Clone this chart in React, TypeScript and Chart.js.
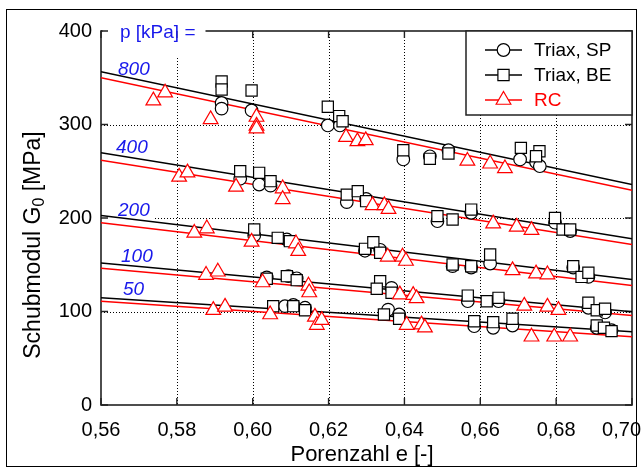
import { useEffect, useRef } from "react";
import { Chart, registerables } from "chart.js";
Chart.register(...registerables);

const xTicks = [0.56, 0.58, 0.6, 0.62, 0.64, 0.66, 0.68, 0.7];
const yTicks = [0, 100, 200, 300, 400];
const pressureLabels = ["800", "400", "200", "100", "50"];

// Triax, SP (circles)
const spE = [0.5918, 0.5918, 0.5997, 0.6198, 0.623, 0.6397, 0.6467, 0.6516, 0.6705, 0.6747, 0.6757,
  0.5967, 0.6017, 0.6047, 0.6248, 0.6299, 0.6487, 0.6576, 0.6797, 0.6837,
  0.6004, 0.609, 0.6296, 0.6336, 0.6527, 0.6576, 0.6626, 0.6845, 0.6885,
  0.6037, 0.6094, 0.6116, 0.6366, 0.6567, 0.6648, 0.6885, 0.6929,
  0.6085, 0.6107, 0.6138, 0.6357, 0.6386, 0.6584, 0.6634, 0.6685, 0.6907, 0.6946];
const spG = [323, 317, 315, 299, 299, 262.6, 266, 272.5, 262.6, 259.7, 255.4,
  242, 235.8, 234.6, 217, 220.5, 196.6, 205.6, 195, 186,
  181.3, 177, 165, 166, 148.5, 147, 151.3, 147, 137,
  136.5, 137.8, 135.5, 125.3, 111, 111, 104, 99,
  105.7, 107, 104, 102, 96.8, 84.3, 82.6, 85, 82.6, 80];

// Triax, BE (squares)
const beE = [0.5918, 0.5918, 0.5997, 0.6198, 0.6228, 0.6237, 0.6397, 0.6467, 0.6516, 0.6707, 0.6756, 0.6747,
  0.5967, 0.6017, 0.6047, 0.6248, 0.6277, 0.6299, 0.6487, 0.6527, 0.6576, 0.6797, 0.6817, 0.6837,
  0.6004, 0.6066, 0.6098, 0.6296, 0.6318, 0.6336, 0.6527, 0.6576, 0.6626, 0.6845, 0.6867, 0.6885,
  0.6037, 0.609, 0.6116, 0.6336, 0.6327, 0.6366, 0.6567, 0.6617, 0.6648, 0.6885, 0.6907, 0.6929,
  0.6054, 0.6107, 0.6138, 0.6346, 0.6386, 0.6584, 0.6634, 0.6685, 0.6907, 0.6926, 0.6946];
const beG = [346, 337.4, 336.4, 319, 309, 303.5, 272.5, 263.3, 269, 275, 271.4, 266,
  250, 248.3, 239.4, 225, 228.7, 218, 202, 198.4, 209, 200, 187.7, 187.7,
  187.7, 178.8, 175.2, 167, 174, 162.8, 150.3, 148.4, 161, 148.4, 137, 141.4,
  135, 137.8, 133.5, 132.4, 124.3, 120, 117, 111, 114.6, 109.3, 101.4, 103,
  105.7, 105.7, 101.4, 96.8, 92.2, 89.6, 88.6, 92.2, 85, 82.6, 79];

// RC (triangles)
const rcE = [0.5738, 0.5769, 0.5889, 0.601, 0.601, 0.601, 0.6246, 0.6276, 0.6298, 0.6566, 0.6626, 0.6665,
  0.5806, 0.5828, 0.5956, 0.6079, 0.6079, 0.6316, 0.6347, 0.6358, 0.6634, 0.6696, 0.6735,
  0.5846, 0.5879, 0.5997, 0.6114, 0.612, 0.6356, 0.6395, 0.6404, 0.6685, 0.6747, 0.6777,
  0.5877, 0.5908, 0.6026, 0.6147, 0.6149, 0.6388, 0.6423, 0.6432, 0.6716, 0.6777, 0.6806,
  0.5896, 0.5927, 0.6046, 0.6164, 0.6169, 0.6182, 0.6406, 0.6445, 0.6454, 0.6735, 0.6795, 0.6837];
const rcG = [325.5, 334, 305.5, 308, 298.5, 295.5, 286.5, 282, 283, 261, 258, 253,
  244, 248.5, 233.3, 231.5, 220, 213.5, 213.5, 209.5, 194, 190.5, 187,
  184, 188.7, 174.5, 172.7, 164.5, 158.5, 158.5, 154, 144, 140.5, 139.5,
  139, 142.5, 131, 127.5, 120.3, 118, 117.5, 114, 106, 105, 101.5,
  101.5, 105, 96.8, 94.3, 85.5, 90.8, 85.5, 86, 82.8, 73, 73, 73];

// regression lines (value at e = 0.56 and e = 0.70)
const lineStartE = 0.56;
const lineEndE = 0.7;
const blackStartG = [356.5, 269.7, 202.7, 152, 114.7];
const blackEndG = [235.8, 177.8, 134.2, 99.7, 78.3];
const redStartG = [350, 261.8, 194.9, 146.3, 111];
const redEndG = [229.7, 171.7, 127.8, 95.7, 73];

const FONT = "'Liberation Sans', Arial, Helvetica, sans-serif";
const BLUE = "rgb(25,25,235)";
const RED = "#ff0000";

const zip = (xs: number[], ys: number[]) => xs.map((x, i) => ({ x, y: ys[i] }));
const fmtE = (v: number) => v.toFixed(2).replace(".", ",");

function drawMarker(ctx: CanvasRenderingContext2D, kind: string, x: number, y: number) {
  ctx.save();
  ctx.fillStyle = "#fff";
  ctx.lineWidth = 1.2;
  ctx.beginPath();
  if (kind === "circle") {
    ctx.strokeStyle = "#000";
    ctx.arc(x, y, 6.3, 0, Math.PI * 2);
  } else if (kind === "rect") {
    ctx.strokeStyle = "#000";
    ctx.rect(x - 5.6, y - 5.6, 11.2, 11.2);
  } else {
    ctx.strokeStyle = RED;
    const r = 8.5;
    ctx.moveTo(x, y - r);
    ctx.lineTo(x + r * Math.sin((2 * Math.PI) / 3), y + r / 2);
    ctx.lineTo(x - r * Math.sin((2 * Math.PI) / 3), y + r / 2);
    ctx.closePath();
  }
  ctx.fill();
  ctx.stroke();
  ctx.restore();
}

const decor = {
  id: "decor",
  beforeDatasetsDraw(chart: any) {
    const { ctx, chartArea: a, scales } = chart;
    const x = scales.x;
    const y = scales.y;
    ctx.save();
    // dotted grid
    ctx.strokeStyle = "#000";
    ctx.lineWidth = 1;
    ctx.setLineDash([1, 2]);
    xTicks.slice(1, -1).forEach((v) => {
      const px = Math.round(x.getPixelForValue(v)) + 0.5;
      ctx.beginPath();
      ctx.moveTo(px, a.top);
      ctx.lineTo(px, a.bottom);
      ctx.stroke();
    });
    yTicks.slice(1, -1).forEach((v) => {
      const py = Math.round(y.getPixelForValue(v)) + 0.5;
      ctx.beginPath();
      ctx.moveTo(a.left, py);
      ctx.lineTo(a.right, py);
      ctx.stroke();
    });
    ctx.setLineDash([]);
    // border
    ctx.strokeStyle = "#222";
    ctx.lineWidth = 1.6;
    ctx.strokeRect(a.left, a.top, a.right - a.left, a.bottom - a.top);
    // label backgrounds
    ctx.fillStyle = "#fff";
    ctx.fillRect(a.left + 1.5, a.top - 18, 103, 45);
    ctx.fillRect(a.left + 2, y.getPixelForValue(200) - 10, 52, 12);
    // inner ticks
    ctx.strokeStyle = "#222";
    ctx.lineWidth = 1.4;
    const tl = 7;
    xTicks.forEach((v) => {
      const px = x.getPixelForValue(v);
      ctx.beginPath();
      ctx.moveTo(px, a.bottom);
      ctx.lineTo(px, a.bottom - tl);
      ctx.moveTo(px, a.top);
      ctx.lineTo(px, a.top + tl);
      ctx.stroke();
    });
    yTicks.forEach((v) => {
      const py = y.getPixelForValue(v);
      ctx.beginPath();
      ctx.moveTo(a.left, py);
      ctx.lineTo(a.left + tl, py);
      ctx.moveTo(a.right, py);
      ctx.lineTo(a.right - tl, py);
      ctx.stroke();
    });
    // x tick labels
    ctx.fillStyle = "#000";
    ctx.font = `20px ${FONT}`;
    ctx.textBaseline = "middle";
    ctx.textAlign = "center";
    xTicks.forEach((v) => {
      const t = fmtE(v);
      const w = ctx.measureText(t).width;
      let cx = x.getPixelForValue(v);
      cx = Math.min(cx, 641 - w / 2);
      ctx.fillText(t, cx, a.bottom + 25);
    });
    // text labels
    ctx.fillStyle = BLUE;
    ctx.textAlign = "left";
    ctx.font = `19px ${FONT}`;
    ctx.fillText("p [kPa] =", a.left + 19, a.top + 2);
    ctx.font = `italic 19px ${FONT}`;
    const lx = [17, 15, 17, 20, 22];
    const ly = [70, 148, 211, 257, 290];
    pressureLabels.forEach((t, i) => ctx.fillText(t, a.left + lx[i], ly[i]));
    ctx.restore();
  },
  afterDraw(chart: any) {
    const { ctx, chartArea: a } = chart;
    ctx.save();
    // legend
    const lx0 = 466, ly0 = a.top, lx1 = a.right, ly1 = 115;
    ctx.fillStyle = "#fff";
    ctx.fillRect(lx0, ly0, lx1 - lx0, ly1 - ly0);
    ctx.strokeStyle = "#222";
    ctx.lineWidth = 1.5;
    ctx.strokeRect(lx0, ly0, lx1 - lx0, ly1 - ly0);
    const items = [
      { t: "Triax, SP", k: "circle", c: "#000", yy: 50 },
      { t: "Triax, BE", k: "rect", c: "#000", yy: 75 },
      { t: "RC", k: "tri", c: RED, yy: 100 },
    ];
    ctx.font = `19px ${FONT}`;
    ctx.textBaseline = "middle";
    items.forEach((it) => {
      ctx.strokeStyle = it.c;
      ctx.lineWidth = 1.3;
      ctx.beginPath();
      ctx.moveTo(485, it.yy);
      ctx.lineTo(522, it.yy);
      ctx.stroke();
      drawMarker(ctx, it.k, 503.5, it.yy);
      ctx.fillStyle = it.c;
      ctx.fillText(it.t, 534, it.yy + 1);
    });
    // axis titles
    ctx.fillStyle = "#000";
    ctx.font = `22px ${FONT}`;
    ctx.textAlign = "center";
    ctx.fillText("Porenzahl e [-]", 362, 455);
    ctx.save();
    ctx.translate(34, 245);
    ctx.rotate(-Math.PI / 2);
    ctx.textAlign = "left";
    const p1 = "Schubmodul G";
    const sub = "0";
    const p2 = " [MPa]";
    ctx.font = `23px ${FONT}`;
    const w1 = ctx.measureText(p1).width;
    const w3 = ctx.measureText(p2).width;
    ctx.font = `16px ${FONT}`;
    const w2 = ctx.measureText(sub).width;
    const start = -(w1 + w2 + w3) / 2;
    ctx.font = `23px ${FONT}`;
    ctx.fillText(p1, start, 0);
    ctx.font = `16px ${FONT}`;
    ctx.fillText(sub, start + w1, 6);
    ctx.font = `23px ${FONT}`;
    ctx.fillText(p2, start + w1 + w2, 0);
    ctx.restore();
    // outer frame
    ctx.strokeStyle = "#000";
    ctx.lineWidth = 1;
    ctx.strokeRect(6.5, 9.5, 630, 457);
    ctx.restore();
  },
};

export default function App() {
  const ref = useRef<HTMLCanvasElement>(null);
  useEffect(() => {
    const lineSets: any[] = [];
    blackStartG.forEach((g, i) => {
      lineSets.push({
        type: "line",
        data: [{ x: lineStartE, y: g }, { x: lineEndE, y: blackEndG[i] }],
        borderColor: "#000",
        borderWidth: 1.5,
        pointRadius: 0,
        showLine: true,
        fill: false,
      });
      lineSets.push({
        type: "line",
        data: [{ x: lineStartE, y: redStartG[i] }, { x: lineEndE, y: redEndG[i] }],
        borderColor: RED,
        borderWidth: 1.5,
        pointRadius: 0,
        showLine: true,
        fill: false,
      });
    });
    const chart = new Chart(ref.current!, {
      type: "scatter",
      data: {
        datasets: [
          {
            label: "RC",
            data: zip(rcE, rcG),
            pointStyle: "triangle",
            pointRadius: 8.5,
            pointBackgroundColor: "#fff",
            pointBorderColor: RED,
            pointBorderWidth: 1.2,
          },
          {
            label: "Triax, BE",
            data: zip(beE, beG),
            pointStyle: "rect",
            pointRadius: 7.9,
            pointBackgroundColor: "#fff",
            pointBorderColor: "#000",
            pointBorderWidth: 1.2,
          },
          {
            label: "Triax, SP",
            data: zip(spE, spG),
            pointStyle: "circle",
            pointRadius: 6.3,
            pointBackgroundColor: "#fff",
            pointBorderColor: "#000",
            pointBorderWidth: 1.2,
          },
          ...lineSets,
        ] as any,
      },
      options: {
        responsive: false,
        animation: false,
        devicePixelRatio: 1,
        layout: { padding: { top: 31, right: 11, left: 0, bottom: 0 } },
        plugins: { legend: { display: false }, tooltip: { enabled: false } },
        scales: {
          x: {
            type: "linear",
            min: 0.56,
            max: 0.7,
            afterBuildTicks: (s: any) => {
              s.ticks = xTicks.map((v) => ({ value: v }));
            },
            afterFit: (s: any) => {
              s.height = 66;
              s.paddingLeft = 0;
              s.paddingRight = 0;
              s.paddingTop = 0;
              s.paddingBottom = 0;
            },
            grid: { display: false, drawTicks: false },
            border: { display: false },
            ticks: { display: false },
          },
          y: {
            type: "linear",
            min: 0,
            max: 400,
            afterBuildTicks: (s: any) => {
              s.ticks = yTicks.map((v) => ({ value: v }));
            },
            afterFit: (s: any) => {
              s.width = 101;
              s.paddingTop = 0;
              s.paddingBottom = 0;
              s.paddingLeft = 0;
              s.paddingRight = 0;
            },
            grid: { display: false, drawTicks: false },
            border: { display: false },
            ticks: {
              padding: 9,
              color: "#000",
              font: { family: FONT, size: 20 },
              callback: (v: any) => String(v),
            },
          },
        },
      } as any,
      plugins: [decor],
    });
    return () => chart.destroy();
  }, []);
  return (
    <div style={{ position: "fixed", left: 0, top: 0, width: 643, height: 471, background: "#fff" }}>
      <canvas ref={ref} width={643} height={471} style={{ width: 643, height: 471, display: "block" }} />
    </div>
  );
}
